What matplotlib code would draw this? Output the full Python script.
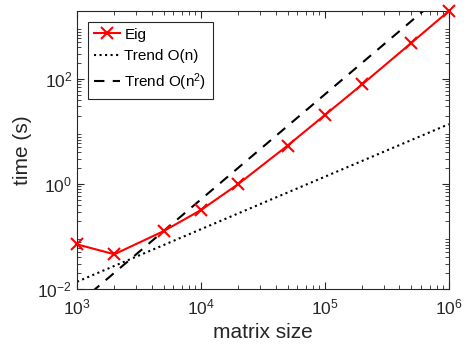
import matplotlib.pyplot as plt
import numpy as np

plt.rcParams['font.family'] = ['Liberation Sans', 'DejaVu Sans']
plt.rcParams['mathtext.fontset'] = 'custom'
plt.rcParams['mathtext.rm'] = 'Liberation Sans'
plt.rcParams['mathtext.it'] = 'Liberation Sans:italic'

# matrix sizes and measured eig times
sizes = [1e3, 2e3, 5e3, 1e4, 2e4, 5e4, 1e5, 2e5, 5e5, 1e6]
eig_time = [0.071, 0.046, 0.127, 0.32, 1.0, 5.4, 20.6, 79, 490, 1970]

# trend lines (end points)
trend_x = [1e3, 1e6]
trend_n = [0.0138, 13.8]
trend_n2 = [0.0051, 5100]

fig = plt.figure(figsize=(4.67, 3.56), dpi=100)
ax = fig.add_axes([0.165, 0.188, 0.796, 0.781])

ax.plot(sizes, eig_time, "-x", color="red", lw=1.5, ms=8, mew=1.5, label="Eig",
        clip_on=False, zorder=5)
ax.plot(trend_x, trend_n, ":", color="black", lw=1.5, label="Trend O(n)")
ax.plot(trend_x, trend_n2, "--", color="black", lw=1.5, dashes=(5, 4),
        label="Trend O(n$^2$)")

ax.set_xscale("log")
ax.set_yscale("log")
ax.set_xlim(1e3, 1e6)
ax.set_ylim(1e-2, 1970)
ax.set_yticks([1e-2, 1e0, 1e2])
ax.set_xticks([1e3, 1e4, 1e5, 1e6])

ax.tick_params(which="both", direction="in", top=True, right=True,
               colors="#262626", labelsize=12.5)
ax.tick_params(which="major", length=5)
ax.tick_params(which="minor", length=3)
ax.tick_params(axis="x", pad=6)
for s in ax.spines.values():
    s.set_color("#262626")
    s.set_linewidth(0.8)

ax.set_xlabel("matrix size", fontsize=15, color="#262626")
ax.set_ylabel("time (s)", fontsize=15, color="#262626")

leg = ax.legend(loc="upper left", fontsize=11, fancybox=False, edgecolor="#262626",
                framealpha=1, handlelength=1.7, borderaxespad=0.7,
                handletextpad=0.3, labelspacing=0.5)
leg.get_frame().set_linewidth(0.8)

plt.savefig("out.png", dpi=100)
